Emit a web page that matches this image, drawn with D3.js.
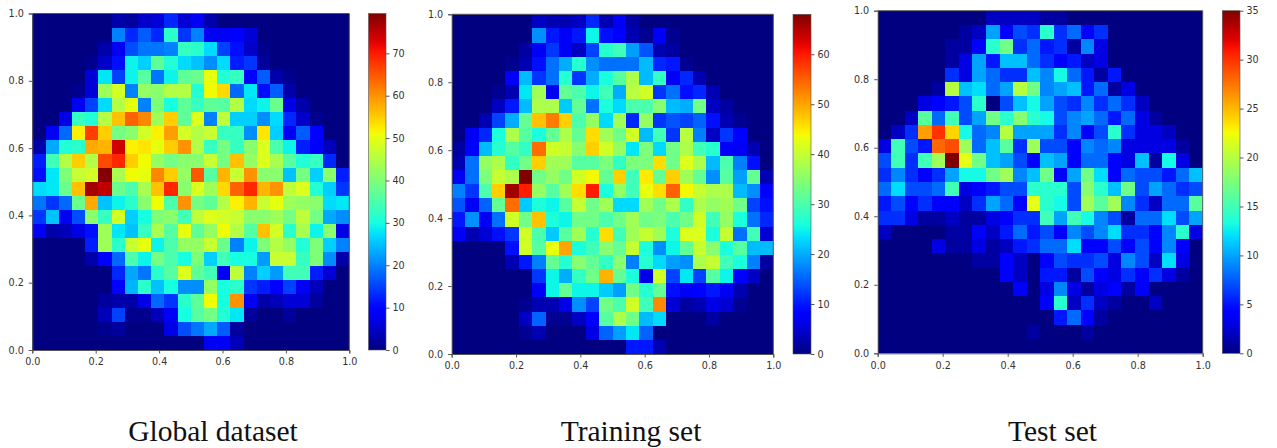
<!DOCTYPE html>
<html>
<head>
<meta charset="utf-8">
<script src="https://cdn.jsdelivr.net/npm/d3@7"></script>
<style>
  html, body { margin: 0; background: #fff; }
  svg { display: block; }
  .tick text { font-family: "DejaVu Sans", sans-serif; font-size: 9.6px; fill: #333; }
  .tick line, .domain { stroke: #555; }
  .title { font-family: "Liberation Serif", serif; font-size: 29.5px; fill: #111; text-anchor: middle; }
</style>
</head>
<body>
<div id="viz"></div>
<script>
const axisTicks = [0, 0.2, 0.4, 0.6, 0.8, 1];

// counts per cell, top row first
const globalCounts = [
  [0,0,0,0,0,0,3,2,5,6,13,6,8,3,0,0,0,0,0,0,0,0,0,0],
  [0,0,0,0,0,0,20,13,17,13,32,14,20,8,8,10,6,0,0,0,0,0,0,0],
  [0,0,0,0,0,3,8,16,19,19,20,33,32,27,15,11,5,1,0,0,0,0,0,0],
  [0,0,0,0,1,5,11,29,26,37,31,27,25,21,27,12,14,2,0,0,0,0,0,0],
  [0,0,0,0,6,28,15,29,36,19,29,37,38,50,31,33,9,17,3,1,0,0,0,0],
  [0,0,0,1,6,43,48,20,42,41,45,45,31,51,54,18,28,11,17,3,0,0,0,0],
  [0,0,0,8,15,27,45,50,20,40,30,37,33,37,36,45,27,29,38,7,3,0,0,0],
  [0,0,7,33,31,45,56,64,61,43,55,37,49,20,46,26,26,21,27,13,5,1,0,0],
  [0,8,18,52,67,55,39,41,48,52,59,48,45,47,33,33,21,53,26,8,17,10,0,0],
  [3,23,31,32,58,57,74,52,53,50,55,60,45,33,39,33,41,49,35,29,12,10,4,0],
  [12,34,45,55,45,66,69,55,51,42,39,41,41,47,39,56,42,49,44,36,31,33,13,0],
  [11,28,40,47,48,79,44,51,50,61,55,42,65,36,57,47,60,41,41,25,39,26,41,12],
  [27,28,38,56,77,75,38,35,44,56,69,41,49,43,54,64,69,57,60,46,49,31,26,14],
  [19,14,18,38,58,25,29,32,41,51,35,60,39,37,45,52,57,47,50,43,42,41,27,28],
  [14,25,8,16,41,33,48,26,30,40,41,34,46,49,48,47,41,41,43,39,46,39,23,21],
  [8,3,4,7,11,43,28,25,33,44,36,50,37,42,51,45,36,56,48,32,44,29,41,7],
  [0,0,0,0,12,43,32,47,50,29,35,42,42,47,38,20,29,40,45,42,31,40,26,20],
  [0,0,0,0,3,10,18,35,29,39,35,30,40,26,34,30,30,22,47,47,33,40,21,3],
  [0,0,0,0,0,0,13,23,19,32,36,49,37,34,8,46,20,26,22,34,34,12,6,0],
  [0,0,0,0,0,0,9,24,32,25,30,21,21,42,30,32,14,12,10,15,8,4,0,0],
  [0,0,0,0,0,2,3,3,7,18,14,32,37,51,30,60,8,3,4,6,6,2,0,0],
  [0,0,0,0,0,4,15,1,1,4,8,30,36,39,31,28,2,0,0,2,0,0,0,0],
  [0,0,0,0,0,1,2,0,0,0,7,16,19,23,17,2,0,0,0,0,0,0,0,0],
  [0,0,0,0,0,0,0,0,0,0,0,0,0,8,8,4,0,0,0,0,0,0,0,0]
];

const trainCounts = [
  [0,0,0,0,0,0,4,3,3,4,11,3,7,2,0,0,0,0,0,0,0,0,0,0],
  [0,0,0,0,0,0,18,10,7,10,25,9,8,3,1,7,1,0,0,0,0,0,0,0],
  [0,0,0,0,0,2,7,12,7,4,13,27,29,19,14,3,2,0,0,0,0,0,0,0],
  [0,0,0,0,1,3,9,16,20,27,18,16,16,16,21,11,10,1,0,0,0,0,0,0],
  [0,0,0,0,7,21,12,16,27,12,20,26,31,38,21,28,7,11,3,0,0,0,0,0],
  [0,0,0,1,3,24,37,7,32,30,25,29,20,39,41,12,16,9,11,3,0,0,0,0],
  [0,0,0,4,10,21,38,38,22,32,16,26,23,30,30,35,21,20,33,4,2,0,0,0],
  [0,0,3,13,20,32,48,53,47,30,36,23,37,11,36,12,14,13,15,9,3,1,0,0],
  [0,7,11,26,38,31,26,32,38,32,46,37,33,41,21,29,12,39,17,4,12,8,0,0],
  [2,8,21,27,31,28,54,41,40,35,47,41,36,24,34,23,33,38,29,27,8,7,3,0],
  [3,16,36,38,28,33,47,37,37,31,31,34,28,34,34,46,33,42,38,21,30,17,9,0],
  [7,16,34,40,38,68,33,36,33,41,44,32,47,29,45,32,47,37,32,18,31,19,32,3],
  [17,12,30,47,66,60,36,31,37,46,60,26,36,29,43,46,55,44,40,38,38,21,18,8],
  [14,7,15,32,54,22,26,25,31,40,33,37,23,23,37,33,38,28,38,36,37,33,13,9],
  [10,18,7,16,41,33,48,26,25,33,33,30,33,37,33,34,30,33,41,29,36,26,16,11],
  [7,3,5,9,12,41,30,22,31,37,27,46,29,37,40,37,26,42,42,26,40,16,29,5],
  [0,0,0,0,9,41,31,43,50,26,29,35,32,40,26,18,25,32,40,35,26,31,21,21],
  [0,0,0,0,3,10,17,32,27,35,32,28,35,17,27,23,19,18,38,40,29,26,17,2],
  [0,0,0,0,0,0,12,25,20,28,33,49,32,26,6,41,13,24,13,31,25,8,4,0],
  [0,0,0,0,0,0,7,25,32,25,25,22,19,33,27,32,9,7,8,10,7,3,0,0],
  [0,0,0,0,0,1,3,3,6,18,13,33,30,41,29,52,5,2,3,6,5,1,0,0],
  [0,0,0,0,0,4,15,1,1,4,8,31,38,33,21,23,0,0,0,2,0,0,0,0],
  [0,0,0,0,0,1,3,0,0,0,6,15,19,24,15,0,0,0,0,0,0,0,0,0],
  [0,0,0,0,0,0,0,0,0,0,0,0,0,10,10,3,0,0,0,0,0,0,0,0]
];

const testCounts = [
  [0,0,0,0,0,0,0,0,2,2,2,2,1,1,0,0,0,0,0,0,0,0,0,0],
  [0,0,0,0,0,0,1,2,10,4,7,6,14,6,8,4,6,0,0,0,0,0,0,0],
  [0,0,0,0,0,1,1,4,14,17,6,8,5,6,1,9,3,0,0,0,0,0,0,0],
  [0,0,0,0,0,1,3,10,5,11,11,8,6,4,5,2,3,0,0,0,0,0,0,0],
  [0,0,0,0,0,6,3,10,8,6,6,11,9,13,8,5,1,5,0,0,0,0,0,0],
  [0,0,0,0,1,20,11,12,8,10,20,17,9,10,11,5,8,1,3,0,0,0,0,0],
  [0,0,0,3,4,5,7,14,0,7,11,13,10,7,6,9,6,8,6,2,0,0,0,0],
  [0,0,2,16,8,15,7,10,17,14,18,14,13,7,9,10,8,5,8,3,1,0,0,0],
  [0,2,6,26,30,24,13,8,9,20,10,10,10,6,9,4,7,14,6,3,3,2,0,0],
  [3,15,7,5,28,29,19,8,11,16,6,19,7,7,4,9,8,9,3,3,3,3,1,0],
  [7,15,6,15,19,35,22,17,11,10,7,4,11,10,4,8,8,4,3,11,1,13,3,0],
  [6,9,6,4,6,10,13,13,17,19,9,11,17,4,10,17,12,4,8,7,7,5,8,11],
  [8,12,7,7,8,15,3,4,5,7,7,14,14,14,7,18,14,11,17,7,10,8,6,7],
  [5,7,4,6,4,4,2,6,10,8,4,22,14,13,7,19,16,19,9,6,2,8,8,16],
  [6,6,3,1,1,2,1,1,3,4,6,6,15,10,15,13,9,7,1,8,8,12,7,10],
  [2,0,0,0,0,1,1,4,2,5,8,5,7,4,9,7,9,12,6,6,4,9,14,3],
  [0,0,0,0,3,1,1,3,1,2,5,6,8,8,12,4,4,7,4,7,4,9,4,0],
  [0,0,0,0,0,0,0,1,1,4,2,0,4,7,6,6,7,3,9,7,2,12,3,0],
  [0,0,0,0,0,0,0,0,0,4,2,0,5,5,1,7,4,3,6,4,6,3,1,0],
  [0,0,0,0,0,0,0,0,0,0,4,0,3,9,3,1,3,4,1,4,0,0,0,0],
  [0,0,0,0,0,0,0,0,0,0,0,0,4,14,2,6,2,1,0,0,2,0,0,0],
  [0,0,0,0,0,0,0,0,0,0,0,0,0,5,8,4,1,0,0,0,0,0,0,0],
  [0,0,0,0,0,0,0,0,0,0,0,1,0,0,0,1,0,0,0,0,0,0,0,0],
  [0,0,0,0,0,0,0,0,0,0,0,0,0,0,0,0,0,0,0,0,0,0,0,0]
];

const panels = [
  {id: "global", counts: globalCounts, title: "Global dataset", vmax: 79.4, ticks: [0,10,20,30,40,50,60,70],
   left: 32.3, right: 349.3, top: 13.5, bottom: 350, barLeft: 368.5, barRight: 386, titleX: 213},
  {id: "train", counts: trainCounts, title: "Training set", vmax: 68, ticks: [0,10,20,30,40,50,60],
   left: 451.7, right: 773.3, top: 14.3, bottom: 354, barLeft: 793, barRight: 811, titleX: 631},
  {id: "test", counts: testCounts, title: "Test set", vmax: 35, ticks: [0,5,10,15,20,25,30,35],
   left: 877.7, right: 1202.7, top: 10.7, bottom: 353.3, barLeft: 1222.3, barRight: 1240, titleX: 1052.5}
];

const width = 1277, height = 448;

const svg = d3.select("#viz")
    .append("svg")
    .attr("width", width)
    .attr("height", height);

// matplotlib's jet, one piecewise scale per channel
const red = d3.scaleLinear().domain([0.35, 0.66, 0.89, 1]).range([0, 1, 1, 0.5]).clamp(true);
const green = d3.scaleLinear().domain([0.125, 0.375, 0.64, 0.91]).range([0, 1, 1, 0]).clamp(true);
const blue = d3.scaleLinear().domain([0, 0.11, 0.34, 0.65]).range([0.5, 1, 1, 0]).clamp(true);
const jet = t => d3.rgb(red(t) * 255, green(t) * 255, blue(t) * 255).formatHex();

const defs = svg.append("defs");
defs.append("linearGradient")
    .attr("id", "jetBar")
    .attr("x1", 0).attr("x2", 0).attr("y1", 1).attr("y2", 0)
    .selectAll("stop")
    .data(d3.range(0, 1.001, 0.02))
    .enter().append("stop")
    .attr("offset", d => d)
    .attr("stop-color", d => jet(d));

// the source picture is a slightly soft upscale
defs.append("filter")
    .attr("id", "soft")
    .append("feGaussianBlur")
    .attr("stdDeviation", 0.6);

panels.forEach(p => {
    const size = p.counts.length;
    const x = d3.scaleLinear().domain([0, 1]).range([p.left, p.right]);
    const y = d3.scaleLinear().domain([0, 1]).range([p.bottom, p.top]);
    const color = d3.scaleSequential(jet).domain([0, p.vmax]);
    const colorAxis = d3.scaleLinear().domain([0, p.vmax]).range([p.bottom, p.top]);

    defs.append("clipPath")
        .attr("id", "clip-" + p.id)
        .append("rect")
        .attr("x", p.left)
        .attr("y", p.top)
        .attr("width", p.right - p.left)
        .attr("height", p.bottom - p.top);

    const g = svg.append("g");

    g.append("g")
        .attr("clip-path", "url(#clip-" + p.id + ")")
        .append("g")
        .attr("filter", "url(#soft)")
        .attr("shape-rendering", "crispEdges")
        .selectAll(".row")
        .data(p.counts)
        .enter().append("g")
        .selectAll("rect")
        .data((row, r) => row.map((v, c) => ({v, r, c})))
        .enter().append("rect")
        .attr("x", d => x(d.c / size))
        .attr("y", d => y(1 - d.r / size))
        .attr("width", x(1 / size) - x(0) + 1)
        .attr("height", y(0) - y(1 / size) + 1)
        .attr("fill", d => color(d.v));

    g.append("g")
        .attr("transform", "translate(0," + p.bottom + ")")
        .call(d3.axisBottom(x).tickValues(axisTicks).tickFormat(d3.format(".1f")).tickSize(3.5).tickPadding(5));

    g.append("g")
        .attr("transform", "translate(" + p.left + ",0)")
        .call(d3.axisLeft(y).tickValues(axisTicks).tickFormat(d3.format(".1f")).tickSize(3.5).tickPadding(5));

    // top and right spines
    g.append("path")
        .attr("class", "domain")
        .attr("fill", "none")
        .attr("d", d3.line()([[p.left, p.top], [p.right, p.top], [p.right, p.bottom]]));

    // colour bar
    g.append("rect")
        .attr("x", p.barLeft)
        .attr("y", p.top)
        .attr("width", p.barRight - p.barLeft)
        .attr("height", p.bottom - p.top)
        .attr("fill", "url(#jetBar)")
        .attr("stroke", "#555")
        .attr("stroke-width", 0.6);

    const barAxis = g.append("g")
        .attr("transform", "translate(" + p.barRight + ",0)")
        .call(d3.axisRight(colorAxis).tickValues(p.ticks).tickSize(3.5).tickPadding(3));
    barAxis.select(".domain").remove();

    g.append("text")
        .attr("class", "title")
        .attr("x", p.titleX)
        .attr("y", 441)
        .text(p.title);
});
</script>
</body>
</html>
